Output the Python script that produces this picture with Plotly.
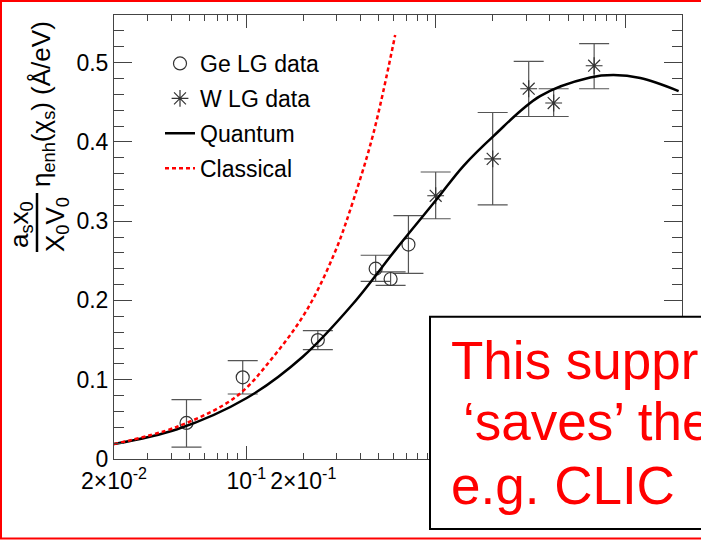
import math
import plotly.graph_objects as go

# ---------------- data ----------------
ge_x = [0.0483, 0.0957, 0.2386, 0.482, 0.578, 0.718]
ge_y = [0.0455, 0.103, 0.150, 0.240, 0.227, 0.2705]
ge_hi = [0.0748, 0.124, 0.162, 0.257, 0.236, 0.307]
ge_lo = [0.015, 0.082, 0.138, 0.224, 0.219, 0.234]

w_x = [1.0, 2.0, 3.1, 4.2, 6.87]
w_y = [0.332, 0.3785, 0.467, 0.449, 0.496]
w_hi = [0.362, 0.437, 0.5015, 0.467, 0.524]
w_lo = [0.303, 0.3205, 0.432, 0.432, 0.467]

quant_x = [0.0200, 0.0431, 0.1005, 0.1986, 0.365, 0.624, 1.015, 1.40, 2.02, 3.56,
           6.55, 8.70, 12.04, 19.2]
quant_y = [0.0189, 0.0375, 0.0769, 0.129, 0.1955, 0.266, 0.3279, 0.3695, 0.4073,
           0.4577, 0.4811, 0.4842, 0.4805, 0.4641]

class_x = [0.0200, 0.0431, 0.0883, 0.1389, 0.2086, 0.2943, 0.3678, 0.469, 0.611]
class_y = [0.0189, 0.0407, 0.0786, 0.129, 0.1879, 0.2614, 0.3266, 0.4107, 0.5347]

x_tickvals = [0.02, 0.1, 0.2]
x_ticktext = ["2×10<sup>-2</sup>", "10<sup>-1</sup>", "2×10<sup>-1</sup>"]
x_minor = [0.03, 0.04, 0.05, 0.06, 0.07, 0.08, 0.09, 0.3, 0.4, 0.5, 0.6, 0.7, 0.8, 0.9,
           1, 2, 3, 4, 5, 6, 7, 8, 9, 10]
x_decades = [0.1, 1, 10]

box_lines = ["This suppr", "‘saves’ the", "e.g. CLIC"]

# ---------------- geometry helpers (layout only) ----------------
W, H = 701, 540
ML, MR, MT, MB = 114, 19, 15, 81
PW, PH = W - ML - MR, H - MT - MB


def px(xp):
    return (xp - ML) / PW


def py(yp):
    return (H - MB - yp) / PH


FONT = "Liberation Sans, Arial, sans-serif"
AXC = "#444444"

fig = go.Figure()

err_style = dict(type="data", symmetric=False, color="#555555", thickness=1.2, width=15)

fig.add_trace(go.Scatter(
    x=ge_x, y=ge_y, mode="markers", name="Ge LG data", legendgroup="a",
    marker=dict(symbol="circle-open", size=13, color="#333333", line=dict(width=1.2)),
    error_y=dict(array=[h - y for h, y in zip(ge_hi, ge_y)],
                 arrayminus=[y - l for l, y in zip(ge_lo, ge_y)], **err_style),
))
fig.add_trace(go.Scatter(
    x=w_x, y=w_y, mode="markers", name="W LG data", legendgroup="b",
    marker=dict(symbol="asterisk-open", size=14, color="#333333",
                line=dict(width=1.2, color="#333333")),
    error_y=dict(array=[h - y for h, y in zip(w_hi, w_y)],
                 arrayminus=[y - l for l, y in zip(w_lo, w_y)], **err_style),
))
fig.add_trace(go.Scatter(
    x=quant_x, y=quant_y, mode="lines", name="Quantum", legendgroup="c",
    line=dict(color="black", width=2.5, shape="spline", smoothing=1.0),
))
fig.add_trace(go.Scatter(
    x=class_x, y=class_y, mode="lines", name="Classical", legendgroup="d", xaxis="x2",
    line=dict(color="#ff0000", width=2.5, dash="4px,3px", shape="spline", smoothing=1.0),
))

xr = [math.log10(0.02), math.log10(20)]

fig.update_layout(
    width=W, height=H, autosize=False,
    margin=dict(l=ML, r=MR, t=MT, b=MB, pad=0),
    paper_bgcolor="white", plot_bgcolor="white",
    font=dict(family=FONT, size=23, color="black"),
    showlegend=True,
    legend=dict(x=px(160), y=py(42), xanchor="left", yanchor="top",
                font=dict(size=23, family=FONT, color="black"),
                bgcolor="rgba(0,0,0,0)", tracegroupgap=2, itemwidth=30),
    xaxis=dict(type="log", range=xr, showgrid=False, zeroline=False,
               showline=True, linecolor=AXC, linewidth=1, mirror="ticks",
               ticks="inside", ticklen=6, tickcolor=AXC, tickwidth=1,
               tickvals=x_tickvals, ticktext=x_ticktext, tickangle=0,
               ticklabelstandoff=1,
               tickfont=dict(size=23, family=FONT, color="black"),
               minor=dict(tickvals=x_minor, ticks="inside", ticklen=6, tickcolor=AXC,
                          tickwidth=1, showgrid=False)),
    xaxis2=dict(type="log", range=xr, overlaying="x", anchor="y", side="bottom",
                showgrid=False, zeroline=False, showline=False, mirror="ticks",
                ticks="inside", ticklen=13, tickcolor=AXC, tickwidth=1,
                tickvals=x_decades, showticklabels=False),
    yaxis=dict(range=[0, 0.56], showgrid=False, zeroline=False,
               showline=True, linecolor=AXC, linewidth=1, mirror="ticks",
               ticks="inside", ticklen=18, tickcolor=AXC, tickwidth=1,
               tick0=0, dtick=0.1, tickformat="~g",
               tickfont=dict(size=23, family=FONT, color="black"),
               minor=dict(dtick=0.02, tick0=0, ticks="inside", ticklen=10, tickcolor=AXC,
                          tickwidth=1, showgrid=False)),
)

# outer red frame
fig.add_shape(type="rect", xref="paper", yref="paper",
              x0=px(1), x1=px(710), y0=py(538.5), y1=py(1),
              line=dict(color="#ff0000", width=2), fillcolor="rgba(0,0,0,0)", layer="below")

# overlay text box
fig.add_shape(type="rect", xref="paper", yref="paper",
              x0=px(430), x1=px(720), y0=py(529), y1=py(316.7),
              line=dict(color="black", width=2), fillcolor="white", layer="above")

line_pos = [(449, 360), (461, 421.6), (449, 485)]
for txt, (lx, ly) in zip(box_lines, line_pos):
    fig.add_annotation(text=txt, xref="paper", yref="paper", x=px(lx), y=py(ly),
                       xanchor="left", yanchor="middle", showarrow=False,
                       font=dict(size=53, color="#ff0000", family=FONT))

# y-axis title built from rotated pieces (fraction + rest)
TF = dict(size=26, family=FONT, color="black")
fig.add_annotation(text="a<sub>s</sub>x<sub>0</sub>", xref="paper", yref="paper",
                   x=px(20), y=py(225), xanchor="center", yanchor="middle",
                   textangle=-90, showarrow=False, font=TF)
fig.add_annotation(text="X<sub>0</sub>V<sub>0</sub>", xref="paper", yref="paper",
                   x=px(56), y=py(225), xanchor="center", yanchor="middle",
                   textangle=-90, showarrow=False, font=TF)
fig.add_shape(type="line", xref="paper", yref="paper",
              x0=px(37), x1=px(37), y0=py(193), y1=py(252),
              line=dict(color="black", width=2.5))
fig.add_annotation(text="η<sub>enh</sub>(χ<sub>s</sub>) (Å/eV)", xref="paper", yref="paper",
                   x=px(43), y=py(104), xanchor="center", yanchor="middle",
                   textangle=-90, showarrow=False, font=TF)

fig.write_html("out.html")
